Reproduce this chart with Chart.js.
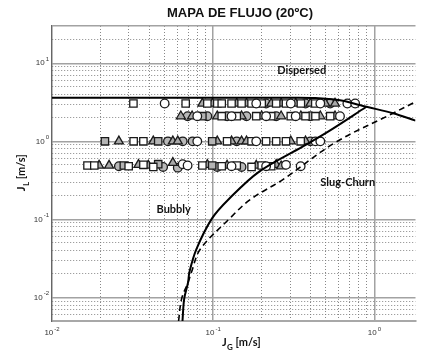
<!DOCTYPE html>
<html>
<head>
<meta charset="utf-8">
<script src="https://cdn.jsdelivr.net/npm/chart.js@4.4.0/dist/chart.umd.min.js"></script>
<style>
  html, body { margin: 0; padding: 0; background: #fff; }
</style>
</head>
<body>
<canvas id="flowMap" width="422" height="358"></canvas>
<script>
/* ---------- DATA ---------- */
const TITLE = "MAPA DE FLUJO (20ºC)";

// axis ranges (J_G, J_L in m/s)
const jgRange = [0.01, 1.8];
const jlRange = [0.005, 30];
const xTickExp = [-2, -1, 0];
const yTickExp = [-2, -1, 0, 1];

// region boundaries
const dispersedJG = [0.01, 0.1, 0.3, 0.43, 0.612, 0.755, 0.893, 1.306, 1.8];
const dispersedJL = [3.61, 3.61, 3.61, 3.58, 3.36, 3.03, 2.77, 2.29, 1.84];

const bubblySlugJG = [0.0645, 0.0661, 0.0699, 0.0712, 0.0786, 0.0984, 0.1244, 0.193, 0.3585, 0.5166, 0.893];
const bubblySlugJL = [0.005, 0.0096, 0.0157, 0.0211, 0.0414, 0.103, 0.18, 0.41, 0.856, 1.33, 2.77];

const dashedJG = [0.061, 0.0637, 0.0699, 0.0733, 0.0831, 0.1267, 0.17, 0.2707, 0.57, 1.306, 1.8];
const dashedJL = [0.005, 0.0096, 0.0157, 0.0211, 0.0414, 0.103, 0.18, 0.324, 0.962, 2.29, 3.21];

// experimental points [J_G, J_L]
const squaresWhite = [
  [0.032, 3.05], [0.0675, 3.05], [0.092, 3.05], [0.106, 3.05], [0.113, 3.05], [0.13, 3.05], [0.15, 3.05],
  [0.173, 3.05], [0.2, 3.05], [0.246, 3.05], [0.283, 3.05], [0.35, 3.05], [0.43, 3.05],
  [0.113, 2.1], [0.14, 2.1], [0.185, 2.1], [0.229, 2.1], [0.303, 2.1], [0.374, 2.1], [0.431, 2.1], [0.532, 2.1],
  [0.0321, 1.0], [0.0369, 1.0], [0.122, 1.0], [0.173, 1.0], [0.213, 1.0], [0.246, 1.0], [0.283, 1.0], [0.349, 1.0],
  [0.0166, 0.49], [0.0183, 0.49], [0.0299, 0.48], [0.0369, 0.5], [0.0425, 0.47], [0.0857, 0.49],
  [0.113, 0.48], [0.14, 0.49], [0.173, 0.47], [0.2, 0.49], [0.229, 0.48]
];
const squaresGray = [
  [0.0857, 2.1], [0.0213, 1.0], [0.0456, 1.0], [0.0986, 1.0], [0.0279, 0.49], [0.0456, 0.51], [0.0986, 0.49]
];
const triangles = [
  [0.0857, 3.05], [0.099, 3.05], [0.14, 3.05], [0.161, 3.05], [0.229, 3.05], [0.264, 3.05], [0.325, 3.05],
  [0.401, 3.05], [0.496, 3.05], [0.57, 3.05],
  [0.063, 2.1], [0.074, 2.1], [0.106, 2.1], [0.15, 2.1], [0.2, 2.1], [0.264, 2.1], [0.35, 2.1], [0.462, 2.1], [0.57, 2.1],
  [0.026, 1.0], [0.0425, 1.0], [0.0562, 1.0], [0.0603, 1.0], [0.106, 1.0], [0.13, 1.0], [0.15, 1.0], [0.161, 1.0],
  [0.303, 1.0], [0.374, 1.0],
  [0.0196, 0.49], [0.0226, 0.49], [0.0344, 0.5], [0.0396, 0.49], [0.0562, 0.53], [0.092, 0.5], [0.122, 0.49],
  [0.185, 0.49], [0.246, 0.5], [0.264, 0.48]
];
const circlesGray = [
  [0.213, 3.05], [0.374, 3.05], [0.532, 3.05],
  [0.0694, 2.1], [0.092, 2.1], [0.122, 2.1], [0.161, 2.1], [0.246, 2.1], [0.401, 2.1],
  [0.0524, 1.0], [0.0647, 1.0], [0.0745, 1.0], [0.14, 1.0], [0.401, 1.0],
  [0.026, 0.48], [0.0489, 0.47], [0.0603, 0.46], [0.106, 0.47], [0.15, 0.47]
];
const circlesWhite = [
  [0.05, 3.05], [0.185, 3.05], [0.303, 3.05], [0.462, 3.05], [0.68, 3.05], [0.76, 3.05],
  [0.0797, 2.1], [0.13, 2.1], [0.213, 2.1], [0.325, 2.1], [0.612, 2.1],
  [0.0797, 1.0], [0.185, 1.0], [0.431, 1.0], [0.462, 1.0],
  [0.0647, 0.51], [0.0694, 0.49], [0.13, 0.48], [0.213, 0.48], [0.283, 0.5], [0.349, 0.48]
];

/* ---------- HELPERS ---------- */
const toXY = (xs, ys) => xs.map((v, i) => ({ x: v, y: ys[i] }));
const toPts = arr => arr.map(p => ({ x: p[0], y: p[1] }));
const isDecade = v => Math.abs(Math.log10(v) - Math.round(Math.log10(v))) < 1e-9;

// grid values 1..9 x 10^k inside the range
function logGrid(min, max) {
  const out = [];
  for (let k = Math.floor(Math.log10(min)); k <= Math.ceil(Math.log10(max)); k++) {
    for (let m = 1; m <= 9; m++) {
      const v = +(m * Math.pow(10, k)).toPrecision(6);
      if (v >= min - 1e-12 && v <= max + 1e-12) out.push(v);
    }
  }
  return out;
}

const gridOpts = {
  color: c => (c.tick && c.tick.major) ? "#a2a2a2" : "#7a7a7a",
  lineWidth: c => (c.tick && c.tick.major) ? 1.5 : 0.9,
  drawTicks: false
};

/* ---------- TEXT OVERLAY (title, tick labels, axis names, regions) ---------- */
const overlayText = {
  id: "overlayText",
  afterDraw(chart) {
    const { ctx, chartArea, scales: { x, y } } = chart;
    ctx.save();
    ctx.fillStyle = "#111";

    // title
    ctx.font = "bold 13px 'Liberation Sans', Arial, sans-serif";
    ctx.textAlign = "center";
    ctx.textBaseline = "middle";
    ctx.fillText(TITLE, 240, 13);

    // power-of-ten tick labels
    const drawPow = (exp, px, py, align) => {
      ctx.font = "8px 'Liberation Sans', Arial, sans-serif";
      const base = ctx.measureText("10").width;
      ctx.font = "6px 'Liberation Sans', Arial, sans-serif";
      const sup = ctx.measureText(String(exp)).width;
      let left = align === "right" ? px - base - sup - 1 : px - (base + sup + 1) / 2;
      ctx.fillStyle = "#333";
      ctx.textAlign = "left";
      ctx.textBaseline = "middle";
      ctx.font = "8px 'Liberation Sans', Arial, sans-serif";
      ctx.fillText("10", left, py);
      ctx.font = "6px 'Liberation Sans', Arial, sans-serif";
      ctx.fillText(String(exp), left + base + 1, py - 4);
    };
    yTickExp.forEach(e => drawPow(e, chartArea.left - 3, y.getPixelForValue(Math.pow(10, e)), "right"));
    xTickExp.forEach(e => drawPow(e, x.getPixelForValue(Math.pow(10, e)), 333, "center"));

    // axis names with subscript
    const axisName = (sub, cx, cy, rot) => {
      ctx.save();
      ctx.translate(cx, cy);
      ctx.rotate(rot);
      ctx.fillStyle = "#111";
      ctx.textBaseline = "alphabetic";
      ctx.textAlign = "left";
      ctx.font = "bold 11px Lato, 'Open Sans', sans-serif";
      const wJ = ctx.measureText("J").width;
      const wRest = ctx.measureText(" [m/s]").width;
      ctx.font = "bold 8px Lato, 'Open Sans', sans-serif";
      const wSub = ctx.measureText(sub).width;
      const start = -(wJ + wSub + wRest) / 2;
      ctx.font = "bold 11px Lato, 'Open Sans', sans-serif";
      ctx.fillText("J", start, 4);
      ctx.font = "bold 8px Lato, 'Open Sans', sans-serif";
      ctx.fillText(sub, start + wJ + 0.5, 8);
      ctx.font = "bold 11px Lato, 'Open Sans', sans-serif";
      ctx.fillText(" [m/s]", start + wJ + wSub + 0.5, 4);
      ctx.restore();
    };
    axisName("L", 21, 173, -Math.PI / 2);
    axisName("G", 241, 342, 0);

    // flow regime names
    ctx.fillStyle = "#111";
    ctx.textAlign = "center";
    ctx.textBaseline = "middle";
    ctx.font = "bold 11px Lato, 'Open Sans', sans-serif";
    ctx.fillText("Dispersed", x.getPixelForValue(0.354), y.getPixelForValue(8.0));
    ctx.fillText("Slug-Churn", x.getPixelForValue(0.684), y.getPixelForValue(0.297));
    ctx.fillText("Bubbly", x.getPixelForValue(0.0569), y.getPixelForValue(0.134));
    ctx.restore();
  }
};

/* ---------- CHART ---------- */
document.addEventListener("DOMContentLoaded", () => {
  const ctx = document.getElementById("flowMap").getContext("2d");

  const lineSet = (data, width, dash) => ({
    data: data,
    showLine: true,
    borderColor: "#000",
    borderWidth: width,
    borderDash: dash,
    pointRadius: 0,
    tension: 0.35,
    fill: false
  });
  const markerSet = (data, style, radius, fill) => ({
    data: toPts(data),
    pointStyle: style,
    pointRadius: radius,
    pointBackgroundColor: fill,
    pointBorderColor: "#1a1a1a",
    pointBorderWidth: 1.3,
    showLine: false
  });

  new Chart(ctx, {
    type: "scatter",
    data: {
      datasets: [
        lineSet(toXY(dispersedJG, dispersedJL), 2, []),
        lineSet(toXY(bubblySlugJG, bubblySlugJL), 2, []),
        lineSet(toXY(dashedJG, dashedJL), 1.6, [6, 4]),
        markerSet(circlesWhite, "circle", 4.3, "#ffffff"),
        markerSet(squaresWhite, "rect", 5.2, "#ffffff"),
        markerSet(squaresGray, "rect", 5.2, "#b4b4b4"),
        markerSet(triangles, "triangle", 5.2, "#a8a8a8"),
        markerSet(circlesGray, "circle", 4.3, "#b8b8b8")
      ]
    },
    options: {
      responsive: false,
      devicePixelRatio: 1,
      animation: false,
      layout: { padding: { top: 26, left: 0, right: 0, bottom: 0 } },
      plugins: {
        legend: { display: false },
        tooltip: { enabled: false },
        title: { display: false }
      },
      scales: {
        x: {
          type: "logarithmic",
          min: jgRange[0],
          max: jgRange[1],
          afterBuildTicks: s => { s.ticks = logGrid(jgRange[0], jgRange[1]).map(v => ({ value: v, major: isDecade(v) })); },
          afterFit: s => { s.height = 37; },
          ticks: { display: false },
          grid: gridOpts,
          border: { color: "#a8a8a8", width: 2, dash: c => (c.tick && !c.tick.major) ? [1, 2] : [] }
        },
        y: {
          type: "logarithmic",
          min: jlRange[0],
          max: jlRange[1],
          afterBuildTicks: s => { s.ticks = logGrid(jlRange[0], jlRange[1]).map(v => ({ value: v, major: isDecade(v) || v === jlRange[1] })); },
          afterFit: s => { s.width = 52; },
          ticks: { display: false },
          grid: gridOpts,
          border: { color: "#666", width: 1.2, dash: c => (c.tick && !c.tick.major) ? [1, 2] : [] }
        }
      }
    },
    plugins: [overlayText]
  });
});
</script>
</body>
</html>
